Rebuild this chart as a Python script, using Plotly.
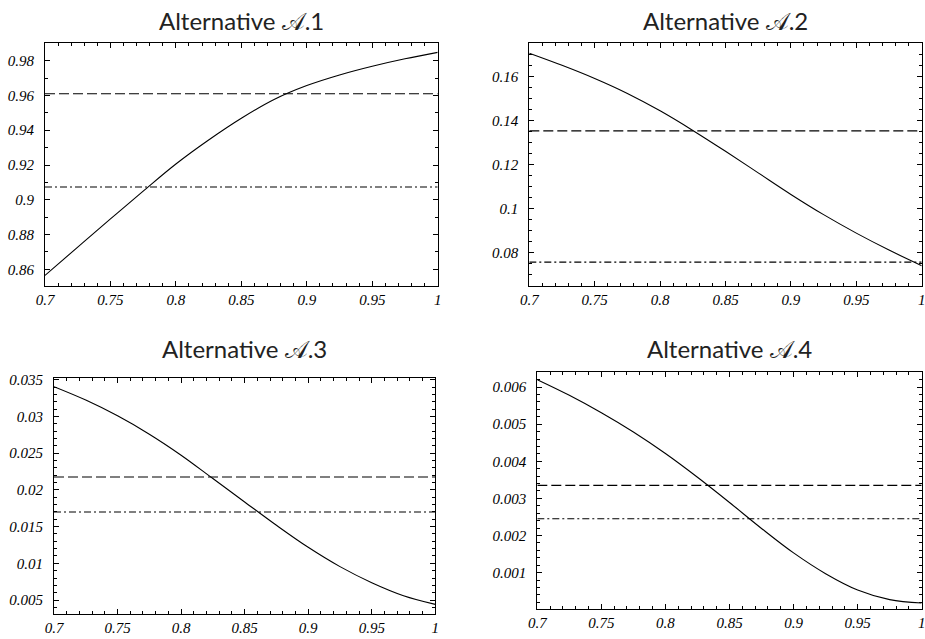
import plotly.graph_objects as go

# ---- data ----
x_vals = [0.7, 0.725, 0.75, 0.775, 0.8, 0.825, 0.85, 0.875, 0.9, 0.925, 0.95, 0.975, 1.0]

curve_a1 = [0.8565, 0.8728, 0.8890, 0.9050, 0.9206, 0.9344, 0.9469, 0.9577, 0.9657, 0.9718, 0.9768, 0.9811, 0.9848]
curve_a2 = [0.1705, 0.1650, 0.1590, 0.1522, 0.1443, 0.1354, 0.1259, 0.1161, 0.1063, 0.0971, 0.0887, 0.0810, 0.0739]
curve_a3 = [0.03405, 0.03223, 0.03009, 0.02759, 0.02473, 0.02155, 0.01836, 0.01518, 0.01218, 0.00955, 0.00736, 0.00559, 0.00441]
curve_a4 = [0.0062, 0.00578, 0.00531, 0.00479, 0.00421, 0.00357, 0.00289, 0.00219, 0.00153, 0.00097, 0.00053, 0.00027, 0.00018]

dashed_levels = [0.9610, 0.1352, 0.02175, 0.00335]
dashdot_levels = [0.9074, 0.0755, 0.0170, 0.00245]

titles = ["Alternative 𝒜.1", "Alternative 𝒜.2", "Alternative 𝒜.3", "Alternative 𝒜.4"]

x_ticks = [0.7, 0.75, 0.8, 0.85, 0.9, 0.95, 1.0]
x_ticktext = ["0.7", "0.75", "0.8", "0.85", "0.9", "0.95", "1"]

y_ticks = [
    [0.86, 0.88, 0.90, 0.92, 0.94, 0.96, 0.98],
    [0.08, 0.10, 0.12, 0.14, 0.16],
    [0.005, 0.010, 0.015, 0.020, 0.025, 0.030, 0.035],
    [0.001, 0.002, 0.003, 0.004, 0.005, 0.006],
]
y_ticktext = [
    ["0.86", "0.88", "0.9", "0.92", "0.94", "0.96", "0.98"],
    ["0.08", "0.1", "0.12", "0.14", "0.16"],
    ["0.005", "0.01", "0.015", "0.02", "0.025", "0.03", "0.035"],
    ["0.001", "0.002", "0.003", "0.004", "0.005", "0.006"],
]
y_ranges = [[0.8506, 0.9900], [0.0648, 0.1750], [0.0031, 0.0352], [0.00001, 0.0064]]
y_minor = [0.01, 0.005, 0.001, 0.0002]

curves = [curve_a1, curve_a2, curve_a3, curve_a4]

# ---- layout geometry (page pixels) ----
W, H = 925, 639
boxes = [  # left, right, top, bottom
    (45, 437.7, 43.3, 285.7),
    (529.3, 921.7, 43.3, 285.7),
    (54, 435.3, 378.3, 614),
    (537.3, 921.7, 372.3, 609.3),
]
title_y = [20, 20, 348, 348]


def fx(p):
    return p / W


def fy(p):
    return 1 - p / H


fig = go.Figure()
tick_font = dict(family="Liberation Serif, Times New Roman, serif", size=15, color="black", style="italic")

for i in range(4):
    xa = "x" if i == 0 else f"x{i+1}"
    ya = "y" if i == 0 else f"y{i+1}"
    fig.add_trace(go.Scatter(x=x_vals, y=curves[i], mode="lines",
                             line=dict(color="black", width=1.1, shape="spline", smoothing=1.0),
                             xaxis=xa, yaxis=ya, showlegend=False, hoverinfo="skip"))
    fig.add_trace(go.Scatter(x=[x_vals[0], x_vals[-1]], y=[dashed_levels[i]] * 2, mode="lines",
                             line=dict(color="black", width=1.1, dash="10px,4px"),
                             xaxis=xa, yaxis=ya, showlegend=False, hoverinfo="skip"))
    fig.add_trace(go.Scatter(x=[x_vals[0], x_vals[-1]], y=[dashdot_levels[i]] * 2, mode="lines",
                             line=dict(color="black", width=1.1, dash="7px,3px,2px,3px"),
                             xaxis=xa, yaxis=ya, showlegend=False, hoverinfo="skip"))

    l, r, t, b = boxes[i]
    common = dict(showline=True, linecolor="black", linewidth=1.2, mirror="allticks",
                  ticks="inside", ticklen=5, tickcolor="black", tickwidth=1,
                  showgrid=False, zeroline=False, tickfont=tick_font, automargin=False,
                  ticklabeloverflow="allow")
    xkey = "xaxis" if i == 0 else f"xaxis{i+1}"
    ykey = "yaxis" if i == 0 else f"yaxis{i+1}"
    fig.layout[xkey] = dict(domain=[fx(l), fx(r)], anchor=ya, range=[0.7, 1.0],
                            tickvals=x_ticks, ticktext=x_ticktext, ticklabelstandoff=0,
                            minor=dict(dtick=0.01, tick0=0.7, ticks="inside", ticklen=3, tickcolor="black"),
                            **common)
    fig.layout[ykey] = dict(domain=[fy(b), fy(t)], anchor=xa, range=y_ranges[i],
                            tickvals=y_ticks[i], ticktext=y_ticktext[i], ticklabelstandoff=7,
                            minor=dict(dtick=y_minor[i], tick0=0, ticks="inside", ticklen=3, tickcolor="black"),
                            **common)
    fig.add_annotation(text=titles[i], x=fx((l + r) / 2), y=fy(title_y[i]), xref="paper", yref="paper",
                       xanchor="center", yanchor="middle", showarrow=False,
                       font=dict(family="Lato, DejaVu Sans", size=24, color="#222222"))

fig.update_layout(width=W, height=H, margin=dict(l=0, r=0, t=0, b=0),
                  paper_bgcolor="white", plot_bgcolor="white")

fig.write_html("out.html", config={"displayModeBar": False},
               post_script="document.body.style.margin='0';document.body.style.overflow='hidden';")
